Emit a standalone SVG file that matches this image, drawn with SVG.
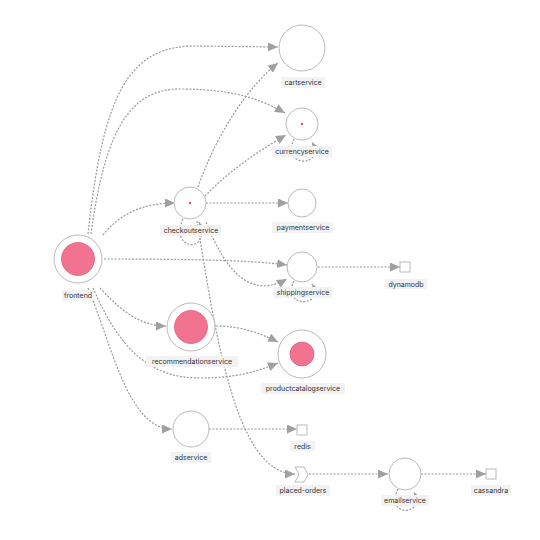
<svg xmlns="http://www.w3.org/2000/svg" width="540" height="540" viewBox="0 0 540 540">
<style>
.bg{fill:#ffffff}
.n{fill:#ffffff;stroke:#bababa;stroke-width:1}
.core{fill:#f2738f;stroke:#e35f7e;stroke-width:0.8}
.dot{fill:#e8456c}
.lb{fill:#f2f2f2}
.t{font-family:Inter,"Liberation Sans",sans-serif;font-size:7px;fill:#333333;text-anchor:middle}
.e{fill:none;stroke:#999999;stroke-width:1.2;stroke-dasharray:2 1.5}
</style>
<defs>
<marker id="ah" markerUnits="userSpaceOnUse" markerWidth="11" markerHeight="10" refX="10" refY="4.5" orient="auto">
<path d="M0,0 L10,4.5 L0,9 z" fill="#a0a0a0"/>
</marker>
</defs>
<rect class="bg" x="0" y="0" width="540" height="540"/>
<g id="edges">
<path class="e" marker-end="url(#ah)" d="M88,234 C103,95 128,46 195,46 L278,47"/>
<path class="e" marker-end="url(#ah)" d="M91,234 C105,130 130,89 180,89 C235,89 262,100 285,113"/>
<path class="e" marker-end="url(#ah)" d="M103,235 C120,214 142,203 175,203"/>
<path class="e" marker-end="url(#ah)" d="M104,259 C180,259 250,260 287,265"/>
<path class="e" marker-end="url(#ah)" d="M100,288 C120,310 140,326 166,326"/>
<path class="e" marker-end="url(#ah)" d="M93,288 C120,350 150,378 200,378 C238,378 258,371 278,363"/>
<path class="e" marker-end="url(#ah)" d="M88,288 C112,345 128,429 172,429"/>
<path class="e" marker-end="url(#ah)" d="M198,187 C218,130 250,85 278,63"/>
<path class="e" marker-end="url(#ah)" d="M205,196 C230,170 260,150 286,135"/>
<path class="e" marker-end="url(#ah)" d="M206,203 L288,203"/>
<path class="e" marker-end="url(#ah)" d="M206,222 C225,270 250,300 287,279"/>
<path class="e" marker-end="url(#ah)" d="M197,221 C215,330 235,474 295,474"/>
<path class="e" marker-end="url(#ah)" d="M183,219 C168,250 212,255 199,222"/>
<path class="e" marker-end="url(#ah)" d="M216,326 C240,326 260,333 278,342"/>
<path class="e" marker-end="url(#ah)" d="M318,267 L400,267"/>
<path class="e" marker-end="url(#ah)" d="M209,429 L297,429"/>
<path class="e" marker-end="url(#ah)" d="M309,474 L388,474"/>
<path class="e" marker-end="url(#ah)" d="M421,474 L486,474"/>
<path class="e" marker-end="url(#ah)" d="M294,139 C280,168 326,168 312,142"/>
<path class="e" marker-end="url(#ah)" d="M294,281 C280,308 326,308 312,284"/>
<path class="e" marker-end="url(#ah)" d="M398,489 C384,517 426,517 414,492"/>
</g>
<g id="cartservice">
<circle class="n" cx="302" cy="48" r="23"/>
<rect class="lb" x="281" y="77" width="44" height="11"/>
<text class="t" x="303" y="85">cartservice</text>
</g>
<g id="currencyservice">
<circle class="n" cx="302" cy="124" r="16"/>
<circle class="dot" cx="302" cy="124" r="1.2"/>
<rect class="lb" x="272" y="146" width="60" height="11"/>
<text class="t" x="302" y="154">currencyservice</text>
</g>
<g id="checkoutservice">
<circle class="n" cx="190" cy="203" r="16"/>
<circle class="dot" cx="190" cy="203" r="1.2"/>
<rect class="lb" x="160" y="225" width="61" height="11"/>
<text class="t" x="191" y="233">checkoutservice</text>
</g>
<g id="paymentservice">
<circle class="n" cx="302" cy="203" r="14"/>
<rect class="lb" x="272" y="222" width="61" height="11"/>
<text class="t" x="303" y="230">paymentservice</text>
</g>
<g id="frontend">
<circle class="n" cx="78" cy="259" r="24"/>
<circle class="core" cx="78" cy="259" r="16.5"/>
<rect class="lb" x="62" y="290" width="32" height="11"/>
<text class="t" x="78" y="298">frontend</text>
</g>
<g id="shippingservice">
<circle class="n" cx="302" cy="267" r="15"/>
<rect class="lb" x="274" y="287" width="58" height="11"/>
<text class="t" x="303" y="295">shippingservice</text>
</g>
<g id="dynamodb">
<rect class="n" x="400" y="262" width="10" height="10"/>
<rect class="lb" x="385" y="279" width="42" height="10"/>
<text class="t" x="406" y="286.5">dynamodb</text>
</g>
<g id="recommendationservice">
<circle class="n" cx="191" cy="327" r="24"/>
<circle class="core" cx="191" cy="327" r="16.5"/>
<rect class="lb" x="146" y="356" width="92" height="11"/>
<text class="t" x="192" y="364">recommendationservice</text>
</g>
<g id="productcatalogservice">
<circle class="n" cx="302" cy="354" r="24"/>
<circle class="core" cx="302" cy="354" r="12"/>
<rect class="lb" x="261" y="383" width="84" height="11"/>
<text class="t" x="303" y="391">productcatalogservice</text>
</g>
<g id="adservice">
<circle class="n" cx="191" cy="429" r="18"/>
<rect class="lb" x="171" y="452" width="40" height="11"/>
<text class="t" x="191" y="460">adservice</text>
</g>
<g id="redis">
<rect class="n" x="297" y="425" width="10" height="10"/>
<rect class="lb" x="290" y="441" width="25" height="10"/>
<text class="t" x="302.5" y="448.5">redis</text>
</g>
<g id="placed-orders">
<path class="n" d="M295,467 L304,467 L308,474.5 L304,482 L295,482 L299,474.5 z"/>
<rect class="lb" x="276" y="485" width="54" height="11"/>
<text class="t" x="303" y="493">placed-orders</text>
</g>
<g id="emailservice">
<circle class="n" cx="405" cy="474" r="16"/>
<rect class="lb" x="381" y="495" width="48" height="11"/>
<text class="t" x="405" y="503">emailservice</text>
</g>
<g id="cassandra">
<rect class="n" x="486" y="469" width="10" height="10"/>
<rect class="lb" x="471" y="485" width="40" height="11"/>
<text class="t" x="491" y="493">cassandra</text>
</g>
</svg>
